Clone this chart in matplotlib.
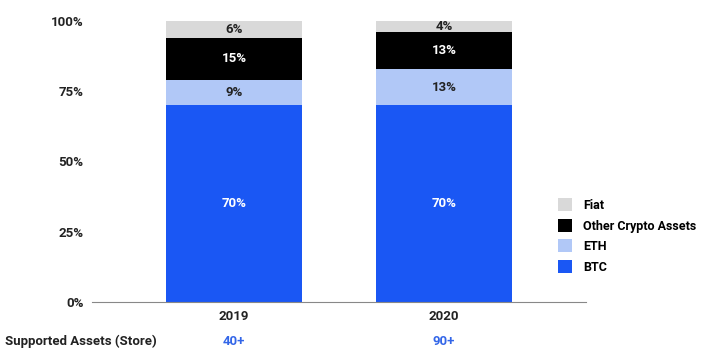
import numpy as np
import matplotlib.pyplot as plt

plt.rcParams['font.family'] = ['Roboto', 'DejaVu Sans']
plt.rcParams['font.weight'] = 'bold'

years = ['2019', '2020']
supported = ['40+', '90+']
series = ['BTC', 'ETH', 'Other Crypto Assets', 'Fiat']
btc = [70, 70]
eth = [9, 13]
other = [15, 13]
fiat = [6, 4]

colors = ['#1a57f4', '#b1c8f7', '#000000', '#d9d9d9']
text_colors = ['white', '#222222', 'white', '#222222']
fs = 9.5

fig = plt.figure(figsize=(7.03, 3.54), dpi=100)
ax = fig.add_axes([92 / 703, 52 / 354, 494 / 703, 281 / 354])

x = np.arange(len(years))
bottom = np.zeros(len(years))
handles = []
for name, vals, col, tcol in zip(series, [btc, eth, other, fiat], colors, text_colors):
    vals = np.array(vals, dtype=float)
    b = ax.bar(x, vals, 0.648, bottom=bottom, color=col, label=name, edgecolor='none')
    handles.append(b)
    for xi, v, bt in zip(x, vals, bottom):
        ax.text(xi, bt + v / 2, f'{v:.0f}%', ha='center', va='center',
                color=tcol, fontsize=fs, fontweight='bold')
    bottom += vals

ax.set_xlim(-0.676, 1.676)
ax.set_ylim(0, 100)
ax.set_yticks([0, 25, 50, 75, 100])
ax.set_yticklabels(['0%', '25%', '50%', '75%', '100%'])
ax.set_xticks(x)
ax.set_xticklabels(years)
ax.tick_params(axis='both', length=0, labelsize=fs, colors='#222222')
ax.tick_params(axis='y', pad=6)
ax.tick_params(axis='x', pad=6)
for s in ['top', 'right', 'left']:
    ax.spines[s].set_visible(False)
ax.spines['bottom'].set_color('#888888')

# supported assets row
fig.text(5 / 703, 1 - 341 / 354, 'Supported Assets (Store)', ha='left', va='center',
         fontsize=fs, fontweight='bold', color='#222222')
for xi, s in zip(x, supported):
    ax.annotate(s, xy=(xi, 0), xycoords=('data', 'axes fraction'),
                xytext=(0, -28.5), textcoords='offset points', ha='center', va='center',
                fontsize=fs, fontweight='bold', color='#3366e8')

leg = ax.legend(handles=handles[::-1], labels=series[::-1], loc='center left',
                bbox_to_anchor=(558 / 703, 1 - 236 / 354), bbox_transform=fig.transFigure,
                frameon=False, fontsize=9, handlelength=1.1, handleheight=1.2,
                handletextpad=0.9, labelspacing=0.55, borderpad=0, borderaxespad=0)

fig.savefig('out.png', dpi=100)
